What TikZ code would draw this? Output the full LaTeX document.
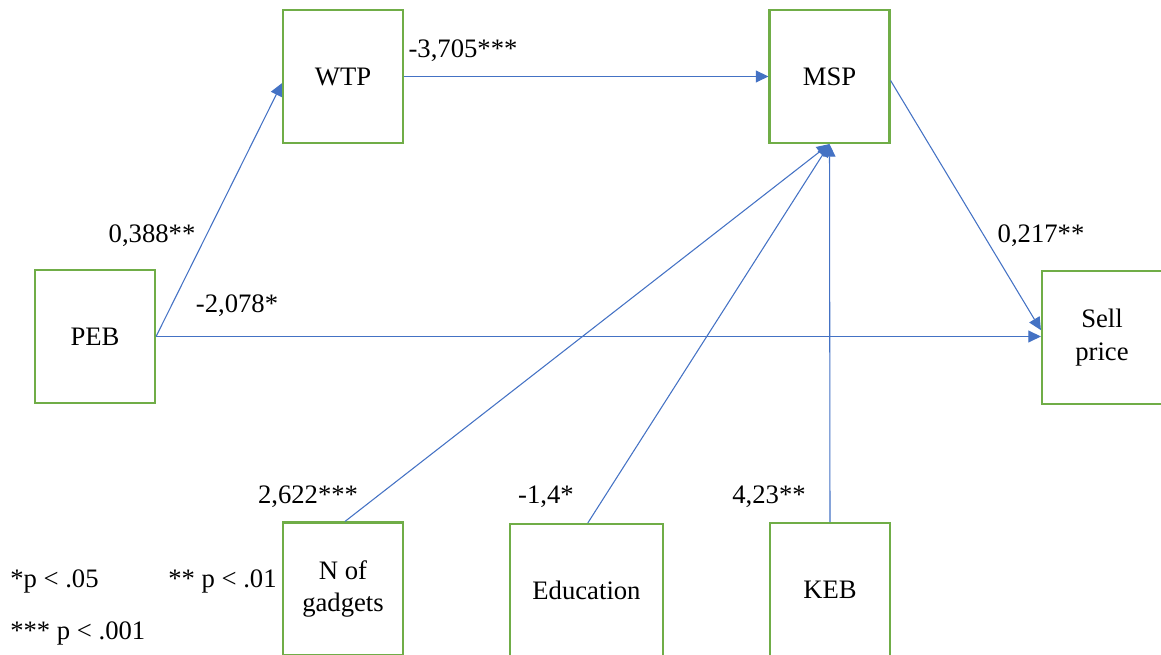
\documentclass[tikz,border=0pt]{standalone}
\usepackage{fontspec}
\IfFontExistsTF{LiberationSerif-Regular.ttf}
  {\newfontfamily\figserif{LiberationSerif-Regular.ttf}}
  {\newfontfamily\figserif{Latin Modern Roman}}
\usetikzlibrary{arrows.meta}
\definecolor{boxgreen}{RGB}{112,173,71}
\definecolor{linkblue}{RGB}{68,114,196}
\begin{document}
\begin{tikzpicture}[x=0.75pt,y=-0.75pt,
  font=\figserif\fontsize{20}{23}\selectfont,
  var/.style={draw=boxgreen,line width=1.6pt,fill=white,minimum width=90pt,
    minimum height=99.75pt,inner sep=0pt,align=center},
  link/.style={draw=linkblue,line width=0.8pt,
    -{Triangle[length=9.5pt,width=9pt]}},
  coef/.style={inner sep=0pt}]
\useasboundingbox (0,0) rectangle (1161,655);
\clip (0,0) rectangle (1161,655);
% variables
\node[var] (WTP) at (343,76.5) {WTP};
\node[var] (MSP) at (829.5,76.5) {MSP};
\node[var] (PEB) at (95,336.5) {PEB};
\node[var] (Sell) at (1102,337.5) {Sell\\[1.5pt]price};
\node[var] (Gadgets) at (343,589) {N of\\[1pt]gadgets};
\node[var,minimum width=114.75pt] (Edu) at (586.5,590.5) {Education};
\node[var] (KEB) at (830,589.5) {KEB};
% paths
\draw[link] (PEB.east) -- ([yshift=-5pt]WTP.west);
\draw[link] (WTP.east) -- (MSP.west);
\draw[link] (PEB.east) -- ([yshift=0.75pt]Sell.west);
\draw[link] ([yshift=-3pt]MSP.east) -- ([yshift=5.5pt]Sell.west);
\draw[link] ([xshift=1.5pt]Gadgets.north) -- (MSP.south);
\draw[link] ([xshift=1pt]Edu.north) -- (MSP.south);
\draw[link] (KEB.north) -- (MSP.south);
% coefficients
\node[coef] (cA) at (152,236) {0,388**};
\node[coef] (cB) at (237,306) {-2,078*};
\node[coef] (cC) at (463,51) {-3,705***};
\node[coef] (cD) at (1041,236) {0,217**};
\node[coef] (cE) at (308,497) {2,622***};
\node[coef] (cF) at (546,497) {-1,4*};
\node[coef] (cG) at (769,497) {4,23**};
% significance legend
\node[coef,anchor=west] (sig1) at (10,581) {*p < .05};
\node[coef,anchor=west] (sig2) at (168,581) {** p < .01};
\node[coef,anchor=west] (sig3) at (10,633) {*** p < .001};
\end{tikzpicture}
\end{document}
